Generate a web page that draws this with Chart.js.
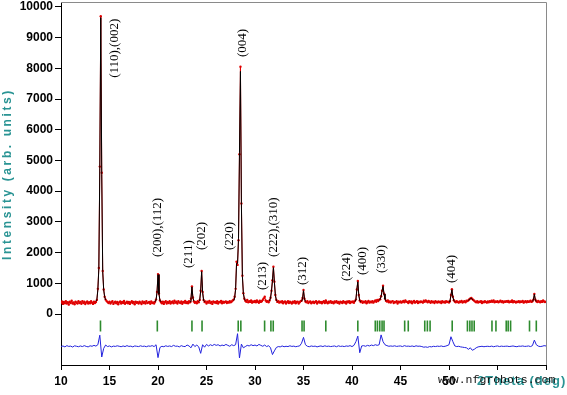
<!DOCTYPE html>
<html>
<head>
<meta charset="utf-8">
<script src="https://cdn.jsdelivr.net/npm/chart.js@4.4.0/dist/chart.umd.min.js"></script>
<style>
  html,body{margin:0;padding:0;background:#fff;}
</style>
</head>
<body>
<canvas id="xrd" width="567" height="395"></canvas>
<script>
// ================= DATOS =================
// perfil observado, paso 0.1 grados desde 10
const obsStart = 10, obsStep = 0.1;
const observed = [
  370,410,330,395,350,420,340,385,305,400,
  360,430,345,380,320,405,365,340,415,355,
  390,335,420,360,400,325,375,410,345,385,
  350,415,370,330,400,360,390,460,820,1500,
  4800,9700,4600,1400,800,560,470,420,390,360,
  400,340,385,420,330,375,405,350,395,320,
  380,410,345,390,360,425,335,370,400,350,
  395,330,375,415,355,390,320,405,365,385,
  340,400,370,325,410,360,390,345,420,355,
  375,395,335,410,360,380,345,400,470,720,
  1300,660,440,390,350,405,330,385,420,345,
  395,360,415,340,385,410,350,430,370,400,
  345,420,380,355,410,335,395,370,425,360,
  390,350,415,380,500,900,540,410,365,395,
  350,420,380,460,760,1400,720,460,390,410,
  345,400,370,425,355,390,330,410,375,395,
  360,415,340,395,380,425,350,400,370,390,
  410,355,395,370,420,385,410,440,470,560,
  820,1700,1600,2400,5200,8050,3600,1250,680,500,
  430,400,455,380,420,395,445,370,410,390,
  425,380,440,400,365,430,395,415,460,510,
  560,440,400,420,385,440,530,760,1100,1540,
  1050,620,460,395,420,370,405,385,415,350,
  395,410,345,385,420,360,400,375,340,405,
  370,415,350,390,405,340,385,420,430,520,
  780,500,410,380,420,355,395,410,350,385,
  405,360,395,420,345,385,410,370,395,350,
  390,415,360,440,385,350,405,375,420,365,
  395,350,410,380,420,365,390,345,405,385,
  360,415,375,395,340,410,385,420,355,400,
  380,410,365,420,470,800,1075,620,440,390,
  420,365,400,380,415,350,395,425,370,405,
  385,420,370,410,440,400,455,425,470,480,
  580,760,920,660,500,430,405,440,385,410,
  375,405,420,355,395,380,415,345,400,385,
  410,370,400,425,380,440,405,395,360,415,
  385,410,350,400,425,370,395,415,355,400,
  380,410,395,370,430,400,445,415,380,425,
  400,365,420,385,405,360,415,390,375,410,
  385,405,360,415,380,400,370,420,390,405,
  375,420,620,810,560,450,410,380,415,395,
  370,410,390,425,375,400,415,385,430,420,
  450,480,510,520,490,460,430,405,385,415,
  375,405,390,420,360,400,380,415,395,370,
  410,385,420,395,430,400,440,380,410,395,
  420,385,405,430,390,415,375,410,395,420,
  400,425,380,410,395,440,385,415,400,375,
  405,390,420,380,410,395,425,370,400,415,
  385,420,395,410,430,395,415,470,650,470,
  415,390,425,400,380,420,395,440,410,390,
  400
];

// curva calculada (solo los tramos de los picos)
const calcPeaks = [
  [[13.6,420],[13.7,470],[13.8,790],[13.9,1480],[14.0,4750],[14.1,9650],[14.2,4550],[14.3,1380],[14.4,790],[14.5,560],[14.6,460]],
  [[19.7,400],[19.8,460],[19.9,700],[20.0,1280],[20.1,650],[20.2,450],[20.3,400]],
  [[23.3,400],[23.4,490],[23.5,880],[23.6,520],[23.7,420]],
  [[24.2,410],[24.3,450],[24.4,750],[24.5,1380],[24.6,700],[24.7,450],[24.8,400]],
  [[27.8,440],[27.9,520],[28.0,800],[28.1,1650],[28.2,1650],[28.3,2450],[28.4,5250],[28.5,7900],[28.6,3550],[28.7,1230],[28.8,670],[28.9,500],[29.0,440]],
  [[31.5,430],[31.6,520],[31.7,750],[31.8,1080],[31.9,1510],[32.0,1030],[32.1,610],[32.2,450],[32.3,410]],
  [[34.8,410],[34.9,490],[35.0,760],[35.1,490],[35.2,410]],
  [[40.3,410],[40.4,460],[40.5,790],[40.6,1050],[40.7,610],[40.8,440],[40.9,400]],
  [[42.8,440],[42.9,480],[43.0,570],[43.1,750],[43.2,900],[43.3,650],[43.4,490],[43.5,430]],
  [[50.0,400],[50.1,430],[50.2,610],[50.3,790],[50.4,550],[50.5,440],[50.6,405]],
  [[52.0,440],[52.1,480],[52.2,500],[52.3,510],[52.4,480],[52.5,450]],
  [[58.6,410],[58.7,460],[58.8,640],[58.9,460],[59.0,410]]
];

// diferencia obs - calc (desplazada), paso 0.2 grados
const diffStart = 10, diffStep = 0.2;
const difference = [
  -1060,-1040,-1070,-1030,-1055,-1045,-1075,-1035,-1050,-1065,
  -1040,-1060,-1030,-1055,-1070,-1035,-1050,-1020,-1045,-1000,
  -690,-1400,-1120,-1010,-1060,-1040,-1070,-1045,-1055,-1035,
  -1050,-1065,-1040,-1060,-1030,-1055,-1045,-1070,-1040,-1050,
  -1060,-1035,-1055,-1045,-1065,-1040,-1050,-1030,-1060,-1000,
  -1420,-1090,-1050,-1065,-1035,-1055,-1040,-1060,-1020,-1050,
  -1045,-1070,-1030,-1055,-1060,-1010,-1040,-1100,-980,-1060,
  -1010,-1070,-1280,-1000,-1080,-990,-1040,-1000,-1030,-990,
  -1020,-1000,-1040,-1010,-1030,-990,-1020,-1050,-1000,-1030,
  -1000,-640,-1430,-980,-1100,-1060,-1020,-1040,-1000,-1030,
  -1010,-1040,-990,-1020,-1050,-1010,-1060,-1030,-1100,-1320,
  -1200,-1090,-1060,-1070,-1040,-1065,-1050,-1060,-1035,-1055,
  -1045,-1065,-1050,-1040,-950,-760,-1000,-1050,-1065,-1040,
  -1055,-1045,-1070,-1050,-1040,-1060,-1035,-1055,-1045,-1060,
  -1050,-1040,-1065,-1035,-1055,-1045,-1060,-1040,-1050,-1030,
  -1060,-1020,-900,-720,-1260,-1040,-1030,-1050,-1020,-1040,
  -1010,-1030,-1000,-1020,-1000,-680,-900,-1000,-1030,-1050,
  -1040,-1050,-1035,-1055,-1045,-1040,-1060,-1030,-1050,-1045,
  -1055,-1040,-1060,-1035,-1050,-1045,-1060,-1080,-1070,-1085,
  -1060,-1070,-1050,-1060,-1045,-1055,-1040,-1060,-1050,-1030,
  -1000,-740,-900,-1040,-1060,-1050,-1070,-1080,-1090,-1100,
  -1150,-1100,-1180,-1150,-1100,-1070,-1060,-1050,-1065,-1055,
  -1050,-1060,-1045,-1065,-1050,-1040,-1060,-1045,-1055,-1050,
  -1045,-1060,-1050,-1040,-1055,-1065,-1045,-1050,-1040,-1055,
  -1050,-1040,-1060,-1030,-850,-1000,-1045,-1060,-1050,-1030,
  -1040
];

// posiciones de Bragg
const braggPos = [14.07,19.93,23.50,24.54,28.27,28.54,30.99,31.64,31.88,34.85,35.06,37.30,
  40.60,42.40,42.62,42.86,43.10,43.30,45.43,45.80,47.50,47.77,48.05,50.33,
  51.90,52.15,52.37,52.60,54.43,54.84,55.90,56.10,56.35,58.30,59.00];
const braggLevel = -390;

// indices hkl
const hklText = ["(110),(002)","(200),(112)","(211)","(202)","(220)","(004)","(213)",
  "(222),(310)","(312)","(224)","(400)","(330)","(404)"];
const hklX = [15.5,19.96,23.16,24.48,27.4,28.72,30.82,31.95,34.95,39.47,41.13,43.09,50.26];
const hklY = [7690,1860,1500,2085,2085,8370,780,1860,945,1075,1270,1335,1010];

const xTicks = [10,15,20,25,30,35,40,45,50,55,60];
const yTicks = [0,1000,2000,3000,4000,5000,6000,7000,8000,9000,10000];

// ================= CONSTRUCCION =================
const obsPts = observed.map((v,i)=>({x: +(obsStart + i*obsStep).toFixed(2), y: v}));
const diffPts = difference.map((v,i)=>({x: +(diffStart + i*diffStep).toFixed(2), y: v}));
const calcPts = [];
calcPeaks.forEach(seg=>{
  seg.forEach(p=>calcPts.push({x:p[0], y:p[1]}));
  calcPts.push({x: seg[seg.length-1][0] + 0.01, y: null});
});
const braggPts = braggPos.map(v=>({x:v, y:braggLevel}));

const TEAL = "#2a9494";
const SANS = '"Liberation Sans", Arial, sans-serif';

// ================= TEXTOS Y MARCO =================
const decor = {
  id: "decor",
  afterDraw(chart){
    const {ctx, chartArea:a, scales:{x, y}} = chart;
    ctx.save();
    // marco superior y derecho
    ctx.strokeStyle = "#8a8a8a";
    ctx.lineWidth = 1;
    ctx.beginPath();
    ctx.moveTo(a.left, a.top + 0.5);
    ctx.lineTo(a.right + 0.5, a.top + 0.5);
    ctx.lineTo(a.right + 0.5, a.bottom);
    ctx.stroke();

    // indices hkl
    ctx.fillStyle = "#000";
    ctx.font = '13px "Liberation Serif", "Times New Roman", serif';
    ctx.textAlign = "left";
    ctx.textBaseline = "middle";
    hklText.forEach((t,i)=>{
      ctx.save();
      ctx.translate(x.getPixelForValue(hklX[i]), y.getPixelForValue(hklY[i]));
      ctx.rotate(-Math.PI/2);
      ctx.fillText(t, 0, 0);
      ctx.restore();
    });

    // titulo eje Y
    ctx.save();
    ctx.fillStyle = TEAL;
    ctx.font = "bold 12px " + SANS;
    ctx.letterSpacing = "2.6px";
    ctx.textAlign = "center";
    ctx.translate(8, 174);
    ctx.rotate(-Math.PI/2);
    ctx.fillText("Intensity (arb. units)", 0, 0);
    ctx.restore();

    // titulo eje X
    ctx.fillStyle = TEAL;
    ctx.font = "bold 13px " + SANS;
    ctx.letterSpacing = "1px";
    ctx.textAlign = "left";
    ctx.fillText("2Theta (deg)", 477, 381);

    // marca de agua
    ctx.letterSpacing = "0px";
    ctx.fillStyle = "#111";
    ctx.font = '11.5px "Liberation Mono", monospace';
    ctx.fillText("www.nfgrobots.com", 438, 380);
    ctx.restore();
  }
};

// ================= GRAFICA =================
new Chart(document.getElementById("xrd"), {
  type: "scatter",
  data: {
    datasets: [
      {label:"Calc", data: calcPts, showLine:true, spanGaps:false, borderColor:"#000", borderWidth:1, pointRadius:0},
      {label:"Obs", data: obsPts, showLine:true, borderColor:"#e00000", borderWidth:1, pointRadius:1.2, pointBackgroundColor:"#e00000", pointBorderWidth:0},
      {label:"Diff", data: diffPts, showLine:true, borderColor:"#2222dd", borderWidth:1, pointRadius:0},
      {label:"Bragg", data: braggPts, showLine:false, pointStyle:"line", rotation:90, radius:5.5, borderColor:"#2e8b2e", borderWidth:1.6}
    ]
  },
  options: {
    responsive: false,
    animation: false,
    devicePixelRatio: 1,
    layout: {autoPadding: false, padding: {top: 2, right: 21, left: 0, bottom: 0}},
    plugins: {legend: {display:false}, tooltip: {enabled:false}},
    scales: {
      x: {
        type: "linear", min: 10, max: 60,
        afterBuildTicks: s => { s.ticks = xTicks.map(v=>({value:v})); },
        afterFit: s => { s.height = 30; s.paddingLeft = 0; s.paddingRight = 0; },
        ticks: {color:"#000", font:{family:SANS, size:12, weight:"bold"}, padding:4, maxRotation:0,
          callback: v => v > 50 ? "" : String(v)},
        grid: {drawOnChartArea:false, drawTicks:true, tickLength:5, color:"#000"},
        border: {display:true, color:"#000", width:1}
      },
      y: {
        min: -1660, max: 10160,
        afterBuildTicks: s => { s.ticks = yTicks.map(v=>({value:v})); },
        afterFit: s => { s.width = 61; s.paddingTop = 0; s.paddingBottom = 0; },
        ticks: {color:"#000", font:{family:SANS, size:12, weight:"bold"}, padding:2,
          callback: v => String(v)},
        grid: {drawOnChartArea:false, drawTicks:true, tickLength:6, color:"#000"},
        border: {display:true, color:"#000", width:1}
      }
    }
  },
  plugins: [decor]
});
</script>
</body>
</html>
